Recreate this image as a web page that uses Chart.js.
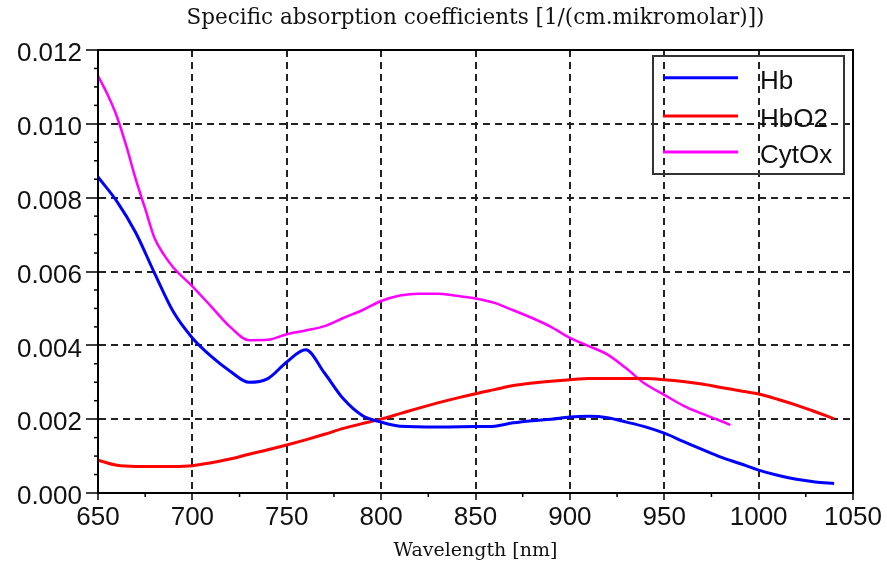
<!DOCTYPE html>
<html><head><meta charset="utf-8">
<script src="https://cdn.jsdelivr.net/npm/chart.js@4.4.0/dist/chart.umd.min.js"></script>
<style>html,body{margin:0;padding:0;background:#fff;overflow:hidden}canvas{display:block}</style>
</head><body>
<canvas id="c" width="887" height="567"></canvas>
<script>
const titleText = "Specific absorption coefficients [1/(cm.mikromolar)])";
const xAxisTitle = "Wavelength [nm]";
const seriesNames = ["Hb", "HbO2", "CytOx"];
const seriesColors = ["#0000ff", "#ff0000", "#ff00ff"];
const xTickValues = [650, 700, 750, 800, 850, 900, 950, 1000, 1050];
const yTickValues = [0.000, 0.002, 0.004, 0.006, 0.008, 0.010, 0.012];

const hbWl  = [650,660,670,680,690,700,710,720,730,740,750,760,770,780,790,800,810,830,850,860,870,880,890,900,910,920,930,940,950,960,970,980,990,1000,1010,1020,1030,1040];
const hbVal = [0.00856,0.0079,0.00705,0.00595,0.0049,0.0042,0.0037,0.0033,0.0030,0.0031,0.00355,0.00388,0.00325,0.00255,0.0021,0.00192,0.00181,0.00179,0.0018,0.00181,0.0019,0.00196,0.0020,0.00206,0.00208,0.00204,0.00192,0.00179,0.00162,0.0014,0.00118,0.00097,0.0008,0.00062,0.00048,0.00037,0.0003,0.00026];

const hbo2Wl  = [650,660,670,680,690,700,710,720,730,740,750,760,770,780,790,800,810,820,830,840,850,860,870,880,890,900,910,920,930,940,950,960,970,980,990,1000,1010,1020,1030,1040];
const hbo2Val = [0.00089,0.00075,0.00072,0.00072,0.00072,0.00074,0.00082,0.00092,0.00105,0.00117,0.0013,0.00144,0.00159,0.00175,0.00188,0.002,0.00215,0.0023,0.00244,0.00257,0.00269,0.0028,0.00291,0.00298,0.00303,0.00307,0.0031,0.0031,0.0031,0.0031,0.00307,0.00302,0.00295,0.00286,0.00277,0.00268,0.00254,0.00238,0.0022,0.00201];

const cytWl  = [650,655,660,665,670,675,680,685,690,700,710,720,730,740,750,760,770,780,790,800,810,820,830,840,850,860,870,880,890,900,910,920,930,940,950,960,970,980,985];
const cytVal = [0.0113,0.0108,0.0102,0.0094,0.0085,0.0077,0.0069,0.00645,0.0061,0.0056,0.00505,0.0045,0.00414,0.00415,0.0043,0.0044,0.00452,0.00474,0.00495,0.0052,0.00535,0.0054,0.0054,0.00534,0.00527,0.00515,0.00495,0.00474,0.0045,0.0042,0.00398,0.00375,0.00337,0.00295,0.00266,0.00237,0.00215,0.00195,0.00184];

const toPoints = (xs, ys) => xs.map((x, i) => ({x: x, y: ys[i]}));
const wlSets = [hbWl, hbo2Wl, cytWl];
const valSets = [hbVal, hbo2Val, cytVal];
const lineWidths = [3, 3, 2.5];

const datasets = seriesNames.map((name, i) => ({
  label: name,
  data: toPoints(wlSets[i], valSets[i]),
  borderColor: seriesColors[i],
  backgroundColor: seriesColors[i],
  borderWidth: lineWidths[i],
  pointRadius: 0,
  fill: false,
  cubicInterpolationMode: 'monotone'
}));

const sansFont = '"Liberation Sans", Arial, sans-serif';
const serifFont = '"DejaVu Serif", serif';

const decorPlugin = {
  id: 'decor',
  afterDraw(chart) {
    const ctx = chart.ctx;
    const a = chart.chartArea;
    const xs = chart.scales.x, ys = chart.scales.y;
    ctx.save();
    ctx.strokeStyle = '#000';
    ctx.lineWidth = 2;
    ctx.setLineDash([]);
    ctx.strokeRect(a.left, a.top, a.right - a.left, a.bottom - a.top);
    ctx.lineWidth = 1.5;
    for (let v = 0.0005; v < 0.012; v += 0.0005) {
      if (Math.abs(v / 0.002 - Math.round(v / 0.002)) < 1e-6) continue;
      const py = ys.getPixelForValue(v);
      ctx.beginPath(); ctx.moveTo(a.left - 4, py); ctx.lineTo(a.left, py); ctx.stroke();
    }
    for (let w = 675; w < 1050; w += 50) {
      const px = xs.getPixelForValue(w);
      ctx.beginPath(); ctx.moveTo(px, a.bottom); ctx.lineTo(px, a.bottom + 4); ctx.stroke();
    }
    ctx.fillStyle = '#111';
    ctx.font = '21.5px ' + serifFont;
    ctx.textAlign = 'center';
    ctx.textBaseline = 'middle';
    ctx.fillText(titleText, (a.left + a.right) / 2, 18);
    const bx = a.right - 200, by = a.top + 6, bw = 191, bh = 118;
    ctx.strokeStyle = '#333';
    ctx.lineWidth = 2;
    ctx.strokeRect(bx, by, bw, bh);
    const rowY = [21.7, 60, 96];
    ctx.font = '26px ' + sansFont;
    ctx.textAlign = 'left';
    chart.data.datasets.forEach((ds, i) => {
      const y = by + rowY[i];
      ctx.strokeStyle = ds.borderColor;
      ctx.lineWidth = 3;
      ctx.beginPath(); ctx.moveTo(bx + 10, y); ctx.lineTo(bx + 85, y); ctx.stroke();
      ctx.fillStyle = '#111';
      ctx.fillText(ds.label, bx + 107, y + 4);
    });
    ctx.restore();
  }
};

new Chart(document.getElementById('c'), {
  type: 'line',
  data: { datasets: datasets },
  options: {
    responsive: false,
    animation: false,
    devicePixelRatio: 1,
    layout: { padding: { top: 50, right: 34, bottom: 0, left: 0 } },
    plugins: { legend: { display: false }, title: { display: false }, tooltip: { enabled: false } },
    scales: {
      x: {
        type: 'linear',
        min: xTickValues[0],
        max: xTickValues[xTickValues.length - 1],
        afterBuildTicks: (scale) => { scale.ticks = xTickValues.map(v => ({value: v})); },
        afterFit: (scale) => { scale.height = 74; },
        ticks: {
          font: { family: sansFont, size: 26 },
          color: '#111',
          padding: 2,
          maxRotation: 0,
          autoSkip: false,
          callback: (v) => String(v)
        },
        grid: { color: '#222', lineWidth: 2, tickLength: 7, tickColor: '#000', tickWidth: 1.5 },
        border: { display: true, color: '#000', width: 2, dash: [7, 5] },
        title: {
          display: true,
          text: xAxisTitle,
          font: { family: serifFont, size: 19 },
          color: '#111',
          padding: { top: 0, bottom: 5 }
        }
      },
      y: {
        type: 'linear',
        min: yTickValues[0],
        max: yTickValues[yTickValues.length - 1],
        afterBuildTicks: (scale) => { scale.ticks = yTickValues.map(v => ({value: v})); },
        afterFit: (scale) => { scale.width = 98; },
        ticks: {
          font: { family: sansFont, size: 26 },
          color: '#111',
          padding: 4,
          labelOffset: 4,
          autoSkip: false,
          callback: (v) => Number(v).toFixed(3)
        },
        grid: { color: '#222', lineWidth: 2, tickLength: 12, tickColor: '#000', tickWidth: 1.5 },
        border: { display: true, color: '#000', width: 2, dash: [7, 5] }
      }
    }
  },
  plugins: [decorPlugin]
});
</script>
</body></html>
